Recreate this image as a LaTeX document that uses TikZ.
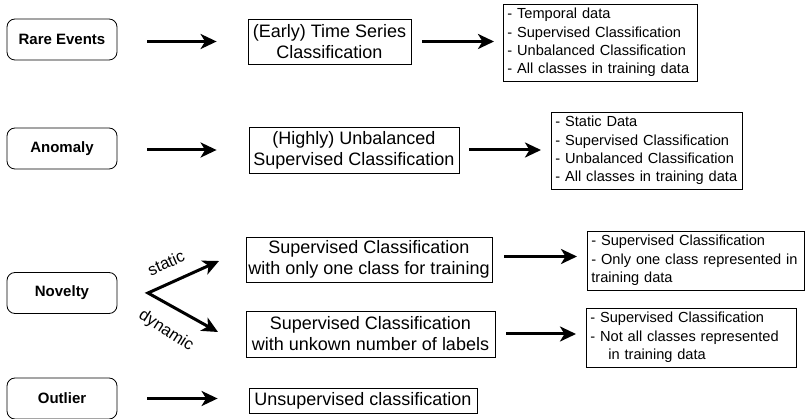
\documentclass[tikz,border=0pt]{standalone}
\usepackage{fontspec}
\setmainfont{Liberation Sans}
\usetikzlibrary{arrows.meta}
\begin{document}
\begin{tikzpicture}[x=1pt,y=-1pt,
  lbox/.style={draw, rounded corners=8pt, line width=0.8pt, minimum width=110pt, minimum height=41pt, font=\fontsize{15}{18}\selectfont\bfseries, inner sep=0pt},
  mbox/.style={draw, line width=0.8pt, align=center, font=\fontsize{18}{21}\selectfont, inner sep=0pt},
  rbox/.style={draw, line width=0.8pt, align=left, font=\fontsize{14.6}{18.3}\selectfont, inner xsep=4pt, inner ysep=0pt, anchor=west},
  arr/.style={line width=3pt, -{Stealth[length=16pt,width=15pt,inset=4.5pt]}},
  lab/.style={font=\fontsize{16.5}{18}\selectfont, inner sep=0pt},
]
\useasboundingbox (0,0) rectangle (808,419);

% left boxes
\node[lbox] (re) at (62,39.5) {Rare Events};
\node[lbox] (an) at (62,148.5) {Anomaly};
\node[lbox] (no) at (62,293) {Novelty};
\node[lbox] (ou) at (62,398.5) {Outlier};

% middle boxes
\node[mbox, minimum width=163pt, minimum height=45pt] (b1) at (329.5,41.5) {(Early) Time Series\\Classification};
\node[mbox, minimum width=210pt, minimum height=46pt] (b2) at (354,150) {(Highly) Unbalanced\\Supervised Classification};
\node[mbox, minimum width=246pt, minimum height=45pt] (b3) at (369,259.5) {Supervised Classification\\with only one class for training};
\node[mbox, minimum width=249pt, minimum height=46pt] (b4) at (370.5,334) {Supervised Classification\\with unkown number of labels};
\node[mbox, minimum width=228pt, minimum height=25pt] (b5) at (363,400.5) {Unsupervised classification};

% right boxes
\node[rbox, text width=186pt, minimum height=77pt] (r1) at (503,42.5) {\mbox{- Temporal data}\\\mbox{- Supervised Classification}\\\mbox{- Unbalanced Classification}\\\mbox{- All classes in training data}};
\node[rbox, text width=183pt, minimum height=77pt] (r2) at (551,150.5) {\mbox{- Static Data}\\\mbox{- Supervised Classification}\\\mbox{- Unbalanced Classification}\\\mbox{- All classes in training data}};
\node[rbox, text width=209pt, minimum height=59pt] (r3) at (587,260.5) {\mbox{- Supervised Classification}\\\mbox{- Only one class represented in}\\\mbox{training data}};
\node[rbox, text width=202pt, minimum height=59pt] (r4) at (586,337.5) {\mbox{- Supervised Classification}\\\mbox{- Not all classes represented}\\\mbox{\hspace*{18pt}in training data}};

% left -> middle arrows
\draw[arr, shorten <=30pt, shorten >=31pt] (b1.west -| re.east) -- (b1.west);
\draw[arr, shorten <=30pt, shorten >=32pt] (b2.west -| an.east) -- (b2.west);
\draw[arr, shorten <=30pt, shorten >=31pt] (ou.east) -- (ou.east -| b5.west);

% novelty fork
\coordinate (j) at (148,293);
\coordinate (se) at (219,261);
\coordinate (de) at (218,332);
\draw[line width=3pt, {Stealth[length=16pt,width=15pt,inset=4.5pt]}-{Stealth[length=16pt,width=15pt,inset=4.5pt]}] (se) -- (j) -- (de);
\node[lab, rotate=24] (st) at (166,263) {static};
\node[lab, rotate=-33] (dy) at (166,331) {dynamic};

% middle -> right arrows
\draw[arr, shorten <=11pt, shorten >=9pt] (b1.east) -- (b1.east -| r1.west);
\draw[arr, shorten <=10pt, shorten >=10pt] (b2.east) -- (b2.east -| r2.west);
\draw[arr, shorten <=12pt, shorten >=10pt] ([yshift=3pt]b3.east) -- ([yshift=3pt]b3.east -| r3.west);
\draw[arr, shorten <=11pt, shorten >=10pt] (b4.east) -- (b4.east -| r4.west);
\end{tikzpicture}
\end{document}
